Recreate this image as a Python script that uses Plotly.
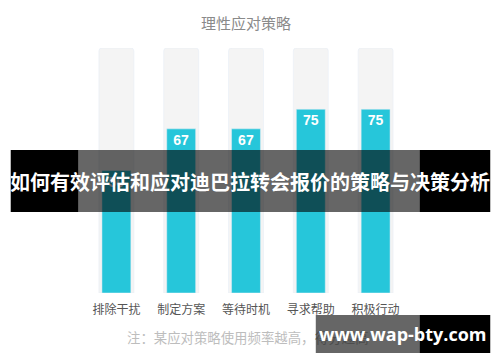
import plotly.graph_objects as go

categories = ["排除干扰", "制定方案", "等待时机", "寻求帮助", "积极行动"]
values = [50, 67, 67, 75, 75]
full = [100, 100, 100, 100, 100]
chart_title = "理性应对策略"
note_visible = "注：某应对策略使用频率越高，"
note_hidden = "得分越高"
banner = "如何有效评估和应对迪巴拉转会报价的策略与决策分析"
watermark = "www.wap-bty.com"

FONT = "Noto Sans CJK SC"
W, H = 500, 362
L, R, T, B = 83.5, 91.5, 48, 69
pw, ph = W - L - R, H - T - B

def px(x):
    return (x - L) / pw

def py(y):
    return (H - B - y) / ph

x = list(range(len(categories)))

fig = go.Figure()
fig.add_trace(go.Bar(x=x, y=full, width=0.54, marker=dict(color="#f4f4f4", cornerradius=3),
                     hoverinfo="skip"))
fig.add_trace(go.Bar(x=x, y=values, width=0.446, marker=dict(color="#26c6da", cornerradius=3),
                     text=values, textposition="inside", insidetextanchor="end",
                     texttemplate="<b>%{text}</b>",
                     textfont=dict(color="white", size=14, family="Arial"),
                     textangle=0))

shapes = []
def rect(x0, y0, x1, y1, color):
    shapes.append(dict(type="rect", xref="paper", yref="paper",
                       x0=px(x0), x1=px(x1), y0=py(y1), y1=py(y0),
                       fillcolor=color, line=dict(width=0), layer="above"))

rect(10, 150, 78, 212, "black")
rect(78, 150, 420, 212, "rgba(0,0,0,0.6)")
rect(420, 150, 491, 212, "black")
rect(316, 315, 420, 353, "rgba(0,0,0,0.6)")
rect(420, 315, 491, 353, "black")

def ann(text, xp, yp, color, size, family, xanchor="center"):
    return dict(text=text, xref="paper", yref="paper", x=px(xp), y=py(yp), showarrow=False,
                xanchor=xanchor, yanchor="middle",
                font=dict(color=color, size=size, family=family))

annotations = [
    ann(chart_title, 246, 22, "#8a8a8a", 15, FONT),
    ann(note_visible, 125, 337, "#bdbdbd", 13.4, FONT, "left"),
    ann(note_hidden, 313, 337, "#4c4c4c", 13.4, FONT, "left"),
    ann("<b>" + banner + "</b>", 250, 181, "white", 20, FONT),
    ann("<b>" + watermark + "</b>", 403, 334, "white", 18, "Open Sans"),
]

fig.update_layout(
    width=W, height=H, margin=dict(l=L, r=R, t=T, b=B),
    barmode="overlay", showlegend=False,
    plot_bgcolor="white", paper_bgcolor="white",
    shapes=shapes, annotations=annotations,
    xaxis=dict(range=[-0.5, 4.5], tickvals=x, ticktext=categories, showgrid=False,
               zeroline=False, showline=False, ticks="", ticklabelstandoff=8,
               tickfont=dict(color="#555555", size=12, family=FONT), fixedrange=True),
    yaxis=dict(range=[0, 100], visible=False, fixedrange=True),
)

fig.write_html("out.html")
